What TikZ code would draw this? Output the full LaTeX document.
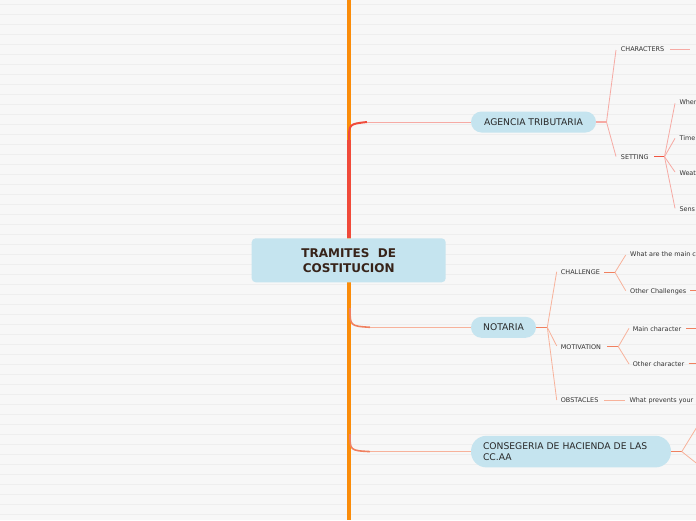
\documentclass[tikz,border=0pt]{standalone}
\usepackage{fontspec}
\setmainfont{DejaVu Sans}
\begin{document}
\begin{tikzpicture}[x=1pt,y=-1pt,
  bg/.style={draw=none,fill={rgb,255:red,247;green,247;blue,247}},
  pill/.style={fill={rgb,255:red,197;green,228;blue,239},draw=none,rounded corners=10.5pt,minimum height=21pt,inner sep=0pt,font=\fontsize{9.2}{11}\selectfont,text={rgb,255:red,40;green,40;blue,40}},
  lbl/.style={anchor=west,inner sep=0pt,text height=4.7pt,text depth=0pt,font=\fontsize{6.45}{8}\selectfont,text={rgb,255:red,50;green,50;blue,50}},
  thin/.style={line width=0.8pt},
]
\definecolor{trunk}{RGB}{250,140,10}
\definecolor{redbr}{RGB}{240,74,58}
\definecolor{pinkln}{RGB}{246,170,164}
\definecolor{redstub}{RGB}{240,85,65}
\definecolor{salmln}{RGB}{247,178,155}
\definecolor{orstub}{RGB}{240,128,95}
\definecolor{gridln}{RGB}{238,238,238}
\useasboundingbox (0,0) rectangle (696,520);
\clip (0,0) rectangle (696,520);
\fill[bg] (0,0) rectangle (696,520);
\foreach \yy in {4,14,...,520} \draw[gridln,line width=0.9pt] (0,\yy) -- (696,\yy);

% trunk
\coordinate (ttop) at (349,0);
\coordinate (tbot) at (349,520);
\draw[trunk,line width=4pt] (ttop) -- (tbot);

% central node
\node[fill={rgb,255:red,197;green,228;blue,239},rounded corners=4pt,minimum width=194pt,minimum height=44pt,inner sep=0pt,align=center,
  font=\bfseries\fontsize{12}{15}\selectfont,text={rgb,255:red,55;green,35;blue,25}] (root) at (348.7,260.3) {TRAMITES\ \ DE\\COSTITUCION};

% main topic nodes
\node[pill,minimum width=125pt] (agencia) at (533.5,122) {AGENCIA TRIBUTARIA};
\node[pill,minimum width=65pt] (notaria) at (503.5,327.3) {NOTARIA};
\node[pill,minimum width=200pt,minimum height=31.6pt,rounded corners=15.5pt,align=left,text width=176pt] (conse) at (571,451.6) {CONSEGERIA DE HACIENDA DE LAS\\CC.AA};

% branch root -> agencia
\coordinate (bA1) at (349,140);
\coordinate (bA2) at (367,122);
\draw[redbr,line width=4pt] (root.north -| bA1) -- (bA1);
\draw[redbr,line width=2pt] (bA1) .. controls (349,124) .. (bA2);
\draw[pinkln,line width=1pt] (bA2) -- (agencia.west);

% branch root -> notaria
\coordinate (bN1) at (350,308);
\coordinate (bN2) at (370,327.3);
\draw[orstub,line width=1.6pt] (bN1) .. controls (350,326) .. (bN2);
\draw[salmln,line width=1pt] (bN2) -- (notaria.west);

% branch root -> conse
\coordinate (bC1) at (350,434);
\coordinate (bC2) at (370,451.6);
\draw[orstub,line width=1.6pt] (bC1) .. controls (350,450.5) .. (bC2);
\draw[salmln,line width=1pt] (bC2) -- (conse.west);

% agencia subtree
\coordinate (fA) at (606.5,122);
\node[lbl] (chars) at (620.7,49.3) {CHARACTERS};
\node[lbl] (sett) at (620.7,156.7) {SETTING};
\draw[pinkln,line width=1.2pt] (agencia.east) -- (fA);
\draw[pinkln,thin] (fA) -- (616,50);
\draw[pinkln,thin] (fA) -- (616,156.5);
\coordinate (charsx) at (690,49.5);
\draw[pinkln,line width=1.2pt] (670,49.5) -- (charsx);

\coordinate (fS) at (664.5,156.7);
\draw[redstub,line width=1.2pt] (654,156.7) -- (fS);
\node[lbl] (where) at (679.3,102.5) {Wher};
\node[lbl] (time) at (679.3,137.9) {Time};
\node[lbl] (weat) at (679.3,173) {Weat};
\node[lbl] (sens) at (679.3,209) {Sens};
\draw[pinkln,thin] (fS) -- (675,103.3);
\draw[pinkln,thin] (fS) -- (675,138.3);
\draw[pinkln,thin] (fS) -- (675,172);
\draw[pinkln,thin] (fS) -- (675,208.3);

% notaria subtree
\coordinate (fN) at (547.3,327.3);
\draw[orstub,line width=1.2pt] (notaria.east) -- (fN);
\node[lbl] (chal) at (560.7,272.3) {CHALLENGE};
\node[lbl] (moti) at (560.7,346.7) {MOTIVATION};
\node[lbl] (obst) at (560.7,400.3) {OBSTACLES};
\draw[salmln,thin] (fN) -- (556.7,271.7);
\draw[salmln,thin] (fN) -- (556.7,346);
\draw[salmln,thin] (fN) -- (556.7,400);

\coordinate (fCh) at (615,272.3);
\draw[orstub,line width=1.2pt] (604,272.3) -- (fCh);
\node[lbl] (wmain) at (630,254.3) {What are the main c};
\node[lbl] (othch) at (630,290.7) {Other Challenges};
\draw[salmln,thin] (fCh) -- (625.7,255);
\draw[salmln,thin] (fCh) -- (625.7,290.7);
\coordinate (othchx) at (705,290.7);
\draw[orstub,line width=1.2pt] (690,290.7) -- (othchx);

\coordinate (fMo) at (618.3,346.7);
\draw[orstub,line width=1.2pt] (607.3,346.7) -- (fMo);
\node[lbl] (mainc) at (632.7,328.7) {Main character};
\node[lbl] (othc) at (632.7,363.7) {Other character};
\draw[salmln,thin] (fMo) -- (629,328.3);
\draw[salmln,thin] (fMo) -- (629,364);
\coordinate (maincx) at (705,328.3);
\coordinate (othcx) at (705,363.5);
\draw[orstub,line width=1.2pt] (686,328.3) -- (maincx);
\draw[orstub,line width=1.2pt] (688.5,363.5) -- (othcx);

\node[lbl] (wprev) at (629.3,400.3) {What prevents your};
\draw[salmln,line width=1.2pt] (604,400.3) -- (625,400.3);

% conse subtree
\coordinate (fC) at (681.8,451.6);
\draw[orstub,line width=1.2pt] (conse.east) -- (fC);
\coordinate (cUp) at (700,422);
\coordinate (cDn) at (700,466);
\draw[salmln,thin] (fC) -- (cUp);
\draw[salmln,thin] (fC) -- (cDn);
\end{tikzpicture}
\end{document}
